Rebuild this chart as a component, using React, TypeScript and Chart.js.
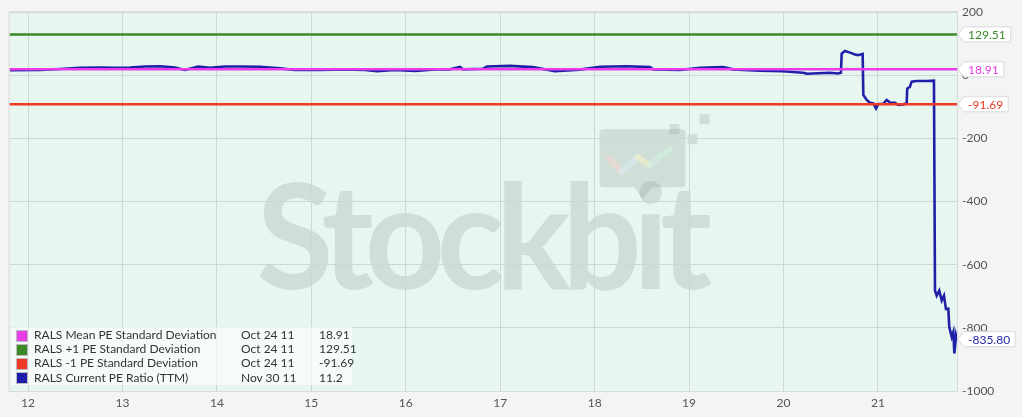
import { useEffect, useRef } from 'react'
import { Chart, registerables } from 'chart.js'
import type { Plugin } from 'chart.js'

Chart.register(...registerables)

// PE ratio history (x = year since 2000, decimal)
const PE_YEARS = [
  11.809, 12.127, 12.339, 12.551, 12.762, 12.921, 13.08, 13.239, 13.398, 13.557,
  13.662, 13.8, 13.927, 14.086, 14.245, 14.457, 14.668, 14.827, 15.092, 15.357,
  15.568, 15.695, 15.886, 16.098, 16.31, 16.468, 16.574, 16.606, 16.818, 16.861,
  17.104, 17.347, 17.58, 17.845, 18.057, 18.343, 18.586, 18.618, 18.904, 19.116,
  19.359, 19.465, 19.751, 19.994, 20.206, 20.249, 20.492, 20.577, 20.608, 20.616,
  20.651, 20.704, 20.757, 20.789, 20.838, 20.845, 20.881, 20.916, 20.951, 20.979,
  21.003, 21.056, 21.092, 21.127, 21.18, 21.215, 21.268, 21.304, 21.31, 21.339,
  21.357, 21.41, 21.516, 21.593, 21.604, 21.622, 21.649, 21.675, 21.699, 21.72,
  21.745, 21.755, 21.781, 21.798, 21.809, 21.827, 21.837,
]
const PE_VALUES = [
  16, 17, 20, 24, 25, 24, 25, 28, 29, 25,
  17, 28, 24, 28, 28, 27, 22, 17, 17, 19,
  17, 13, 17, 14, 19, 19, 27, 19, 21, 28,
  30, 26, 13, 18, 27, 29, 26, 19, 17, 24,
  26, 19, 15, 13, 8, 5, 8, 6, 8, 69,
  77, 72, 66, 64, 68, -62, -78, -87, -89, -105,
  -91, -90, -78, -86, -87, -94, -92, -89, -42, -36,
  -20, -18, -18, -17, -682, -698, -682, -713, -698, -740,
  -739, -797, -829, -813, -881, -824, -835.8,
]

const MEAN_PE = 18.91
const PLUS_1_SD = 129.51
const MINUS_1_SD = -91.69

const X_TICKS = [12, 13, 14, 15, 16, 17, 18, 19, 20, 21]
const X_MIN = 11.804
const X_MAX = 21.837

const LEGEND_ROWS = [
  { label: 'RALS Mean PE Standard Deviation', date: 'Oct 24 11', value: '18.91', color: '#e83ce8' },
  { label: 'RALS +1 PE Standard Deviation', date: 'Oct 24 11', value: '129.51', color: '#3b8a25' },
  { label: 'RALS -1 PE Standard Deviation', date: 'Oct 24 11', value: '-91.69', color: '#ec3a25' },
  { label: 'RALS Current PE Ratio (TTM)', date: 'Nov 30 11', value: '11.2', color: '#1c1ca8' },
]

const FONT = 'Lato, "Open Sans", sans-serif'

const flat = (v: number) => [
  { x: X_MIN, y: v },
  { x: X_MAX, y: v },
]

const backdrop: Plugin<'line'> = {
  id: 'backdrop',
  beforeDraw(chart) {
    const { ctx, chartArea: a } = chart
    ctx.save()
    ctx.fillStyle = '#e8f6f0'
    ctx.fillRect(a.left, a.top, a.right - a.left, a.bottom - a.top)

    // watermark text, tightened to the reference width
    ctx.fillStyle = 'rgba(150,165,158,0.3)'
    ctx.font = `bold 146px ${FONT}`
    ctx.textBaseline = 'alphabetic'
    ;(ctx as any).letterSpacing = '-9px'
    const w = ctx.measureText('Stockbit').width
    ctx.save()
    ctx.translate(a.left + 247, a.top + 277)
    ctx.scale(447 / w, 1)
    ctx.fillText('Stockbit', 0, 0)
    ctx.restore()
    ;(ctx as any).letterSpacing = '0px'

    // logo bubble
    const bx = a.left + 590
    const by = a.top + 117
    ctx.beginPath()
    ctx.roundRect(bx, by, 86, 58, 4)
    ctx.fill()
    ctx.beginPath()
    ctx.moveTo(bx + 35, by + 58)
    ctx.lineTo(bx + 43, by + 70)
    ctx.lineTo(bx + 52, by + 58)
    ctx.fill()
    ctx.fillRect(bx + 70, by - 5, 10, 10)
    ctx.fillRect(bx + 88, by + 5, 10, 10)
    ctx.fillRect(bx + 100, by - 15, 10, 10)
    ctx.lineWidth = 6
    ctx.lineCap = 'round'
    const zig = [
      [bx + 10, by + 29, bx + 22, by + 43, 'rgba(240,215,210,0.7)'],
      [bx + 22, by + 43, bx + 38, by + 28, 'rgba(215,235,240,0.7)'],
      [bx + 38, by + 28, bx + 50, by + 36, 'rgba(240,240,200,0.7)'],
      [bx + 50, by + 36, bx + 70, by + 20, 'rgba(210,240,225,0.7)'],
    ] as const
    for (const [x1, y1, x2, y2, c] of zig) {
      ctx.strokeStyle = c
      ctx.beginPath()
      ctx.moveTo(x1, y1)
      ctx.lineTo(x2, y2)
      ctx.stroke()
    }
    ctx.restore()
  },
  beforeDatasetsDraw(chart) {
    const { ctx, chartArea: a } = chart
    ctx.save()
    ctx.strokeStyle = '#dadada'
    ctx.lineWidth = 1
    ctx.strokeRect(a.left - 0.5, a.top - 0.5, a.right - a.left + 1, a.bottom - a.top + 1)
    ctx.restore()
  },
}

const priceTags: Plugin<'line'> = {
  id: 'priceTags',
  afterDraw(chart) {
    const { ctx, chartArea: a } = chart
    const yScale = chart.scales.y
    ctx.save()
    ctx.font = `12px ${FONT}`
    ctx.textBaseline = 'middle'
    chart.data.datasets.forEach((ds) => {
      const pts = ds.data as { x: number; y: number }[]
      const last = pts[pts.length - 1].y
      const y = yScale.getPixelForValue(last)
      const text = last.toFixed(2)
      const tw = ctx.measureText(text).width
      const tip = a.right + 1
      const rx = tip + 6
      const h = 15
      const rw = tw + 9
      ctx.shadowColor = 'rgba(0,0,0,0.12)'
      ctx.shadowBlur = 2
      ctx.fillStyle = '#ffffff'
      ctx.strokeStyle = '#dddddd'
      ctx.lineWidth = 1
      ctx.beginPath()
      ctx.moveTo(tip, y)
      ctx.lineTo(rx, y - h / 2)
      ctx.lineTo(rx + rw, y - h / 2)
      ctx.lineTo(rx + rw, y + h / 2)
      ctx.lineTo(rx, y + h / 2)
      ctx.closePath()
      ctx.fill()
      ctx.shadowColor = 'transparent'
      ctx.stroke()
      ctx.fillStyle = ds.borderColor as string
      ctx.fillText(text, rx + 4, y + 0.5)
    })
    ctx.restore()
  },
}

export default function App() {
  const canvasRef = useRef<HTMLCanvasElement>(null)

  useEffect(() => {
    if (!canvasRef.current) return
    const chart = new Chart(canvasRef.current, {
      type: 'line',
      data: {
        datasets: [
          {
            label: 'RALS Mean PE Standard Deviation',
            data: flat(MEAN_PE),
            borderColor: '#e83ce8',
            borderWidth: 2.5,
            pointRadius: 0,
          },
          {
            label: 'RALS +1 PE Standard Deviation',
            data: flat(PLUS_1_SD),
            borderColor: '#3b8a25',
            borderWidth: 2.5,
            pointRadius: 0,
          },
          {
            label: 'RALS -1 PE Standard Deviation',
            data: flat(MINUS_1_SD),
            borderColor: '#ec3a25',
            borderWidth: 2.5,
            pointRadius: 0,
          },
          {
            label: 'RALS Current PE Ratio (TTM)',
            data: PE_YEARS.map((x, i) => ({ x, y: PE_VALUES[i] })),
            borderColor: '#1f1fa8',
            borderWidth: 2.6,
            pointRadius: 0,
            tension: 0,
          },
        ],
      },
      options: {
        animation: false,
        responsive: true,
        maintainAspectRatio: false,
        layout: { padding: { left: 9.5, top: 10, right: 0, bottom: 0 } },
        plugins: {
          legend: { display: false },
          tooltip: { enabled: false },
        },
        scales: {
          x: {
            type: 'linear',
            min: X_MIN,
            max: X_MAX,
            afterFit: (s) => { s.height = 26 },
            afterBuildTicks: (s) => { s.ticks = X_TICKS.map((value) => ({ value })) },
            ticks: {
              includeBounds: false,
              padding: 5,
              color: '#555',
              font: { family: FONT, size: 12 },
              callback: (v) => String(v),
            },
            grid: { color: '#cdd8d2', drawTicks: false },
            border: { display: false },
          },
          y: {
            position: 'right',
            min: -1000,
            max: 200,
            afterFit: (s) => { s.width = 65 },
            ticks: {
              stepSize: 200,
              padding: 5,
              color: '#555',
              font: { family: FONT, size: 12 },
              callback: (v) => String(v),
            },
            grid: { color: '#cdd8d2', drawTicks: false },
            border: { display: false },
          },
        },
      },
      plugins: [backdrop, priceTags],
    })
    return () => chart.destroy()
  }, [])

  return (
    <div style={{ position: 'relative', width: 1022, height: 417, background: '#f4f4f4' }}>
      <style>{'body{margin:0;background:#f4f4f4}'}</style>
      <canvas ref={canvasRef} />
      <div
        style={{
          position: 'absolute',
          left: 11,
          top: 327,
          width: 341,
          height: 58,
          background: 'rgba(255,255,255,0.6)',
          fontFamily: FONT,
          fontSize: 12,
          color: '#333',
          paddingTop: 1,
          boxSizing: 'border-box',
        }}
      >
        {LEGEND_ROWS.map((r) => (
          <div key={r.label} style={{ position: 'relative', height: 14.2, lineHeight: '14px' }}>
            <span
              style={{
                position: 'absolute',
                left: 5,
                top: 1.5,
                width: 10,
                height: 10,
                background: r.color,
                border: '1px solid #bbb',
              }}
            />
            <span style={{ position: 'absolute', left: 23 }}>{r.label}</span>
            <span style={{ position: 'absolute', left: 230 }}>{r.date}</span>
            <span style={{ position: 'absolute', left: 308 }}>{r.value}</span>
          </div>
        ))}
      </div>
    </div>
  )
}
